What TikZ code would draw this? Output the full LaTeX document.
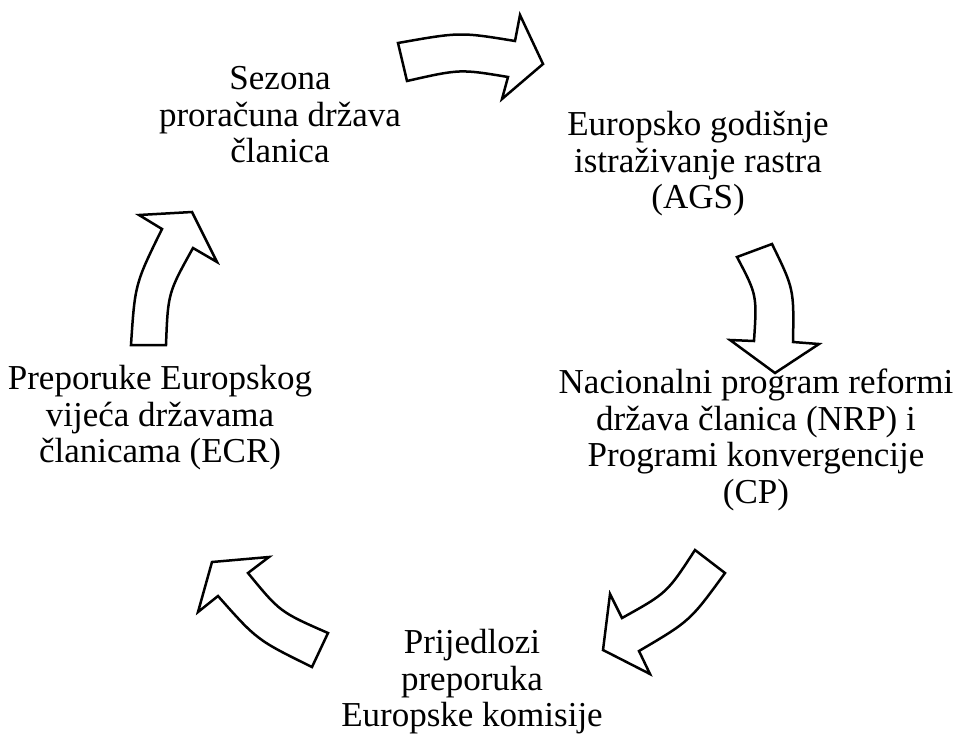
\documentclass[tikz,border=0pt]{standalone}
\usepackage{fontspec}
\setmainfont{Liberation Serif}
\usepackage{tikz}
\usetikzlibrary{positioning}
\tikzset{stage/.style={
        align=center,
        inner sep=0pt,
        font=\fontsize{35}{36.5}\selectfont
}}
\tikzset{cyclearrow/.style={draw,line width=2.5pt,fill=white,line join=miter}}

\begin{document}
\begin{tikzpicture}[x=1pt,y=-1pt]
\useasboundingbox (0,0) rectangle (960,736);

\node[stage] (budget) at (280,115) {Sezona\\proračuna država\\članica};
\node[stage] (ags) at (698,164) {Europsko godišnje\\istraživanje rastra\\(AGS)};
\node[stage] (nrp) at (756,440) {Nacionalni program reformi\\država članica (NRP) i\\Programi konvergencije\\(CP)};
\node[stage] (proposals) at (472,682) {Prijedlozi\\preporuka\\Europske komisije};
\node[stage] (ecr) at (160,418) {Preporuke Europskog\\vijeća državama\\članicama (ECR)};

\draw[cyclearrow] (398,43) .. controls (460,32) .. (515,41) -- (520,15) -- (543,64)
    -- (502,99) -- (508,77) .. controls (460,69) .. (407,81) -- cycle;
\draw[cyclearrow] (772,244) .. controls (794,289) .. (793,342) -- (819,344) -- (775,373)
    -- (730,340) -- (754,341) .. controls (757,295) .. (737,257) -- cycle;
\draw[cyclearrow] (725,573) .. controls (690,621) .. (639,651) -- (650,674) -- (603,650)
    -- (610,594) -- (622,618) .. controls (667,593) .. (695,550) -- cycle;
\draw[cyclearrow] (312,667) .. controls (257,640) .. (218,596) -- (198,612) -- (212,562)
    -- (269,557) -- (248,573) .. controls (280,612) .. (328,633) -- cycle;
\draw[cyclearrow] (131,345) .. controls (135,284) .. (162,229) -- (139,215) -- (192,212)
    -- (217,262) -- (193,248) .. controls (168,293) .. (166,345) -- cycle;
\end{tikzpicture}
\end{document}
